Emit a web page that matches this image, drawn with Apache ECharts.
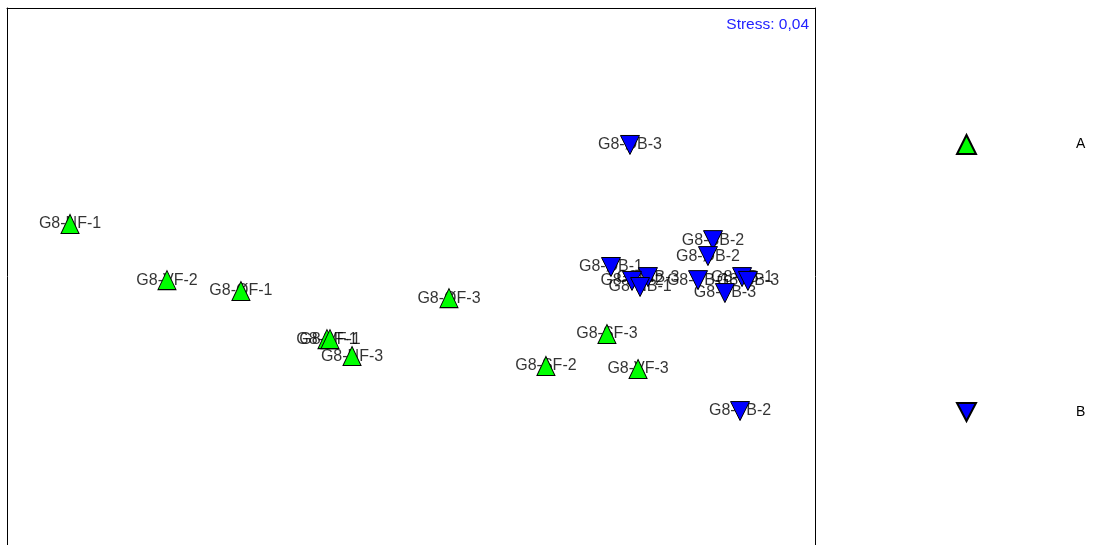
<!DOCTYPE html>
<html>
<head>
<meta charset="utf-8">
<script src="https://cdn.jsdelivr.net/npm/echarts@6/dist/echarts.min.js"></script>
<style>html,body{margin:0;padding:0;background:#fff;}#c{width:1093px;height:545px;}</style>
</head>
<body>
<div id="c"></div>
<script>
// Group A (triangle up, green)
const namesA = ['G8-NF-1','G8-VF-2','G8-ØF-1','G8-ØF-3','G8-SF-1','G8-VF-1','G8-NF-3','G8-SF-2','G8-SF-3','G8-VF-3'];
const xA = [-1.688,-1.208,-0.842,0.188,-0.416,-0.401,-0.292,0.668,0.970,1.124];
const yA = [0.331,0.053,-0.001,-0.036,-0.239,-0.239,-0.323,-0.372,-0.214,-0.387];
// Group B (triangle down, blue)
const namesB = ['G8-ØB-3','G8-SB-2','G8-ØB-2','G8-ØB-1','G8-NB-3','G8-NB-2','G8-NB-1','G8-VB-1','G8-SB-1','G8-SB-3','G8-VB-3','G8-VB-2'];
const xB = [1.084,1.495,1.470,0.990,1.173,1.094,1.134,1.421,1.639,1.668,1.554,1.629];
const yB = [0.722,0.251,0.172,0.118,0.068,0.049,0.019,0.053,0.068,0.049,-0.011,-0.595];
const groups = ['A','B'];
const stressText = 'Stress: 0,04';

const toData = (names, xs, ys) => names.map((n, i) => ({ name: n, value: [xs[i], ys[i]] }));
const downTri = 'path://M0,0 L20,0 L10,19 Z';
const font = 'Liberation Sans, Arial, sans-serif';
const X_MIN = -2, X_MAX = 2, Y_MIN = -1.258, Y_MAX = 1.4;

const labelSeries = (data) => ({
  type: 'scatter', data: data, symbolSize: 0, z: 1, silent: true,
  label: { show: true, position: 'inside', formatter: '{b}', color: '#000', fontSize: 16, fontFamily: font },
  tooltip: { show: false }
});

const frameAxis = (extra) => Object.assign({
  type: 'value', axisLine: { show: true, onZero: false, lineStyle: { color: '#000', width: 1 } },
  axisTick: { show: false }, axisLabel: { show: false }, splitLine: { show: false }
}, extra);

const chart = echarts.init(document.getElementById('c'), null, { renderer: 'canvas' });
chart.setOption({
  animation: false,
  backgroundColor: '#fff',
  title: {
    text: stressText, right: 279, top: 12,
    textStyle: { color: '#2222ff', fontSize: 15.5, fontWeight: 'normal', fontFamily: font }
  },
  grid: { left: 7, top: 8, width: 808, bottom: 0, show: false },
  xAxis: [
    { type: 'value', min: X_MIN, max: X_MAX, show: false },
    frameAxis({ position: 'top', min: X_MIN, max: X_MAX })
  ],
  yAxis: [
    frameAxis({ position: 'left', min: Y_MIN, max: Y_MAX }),
    frameAxis({ position: 'right', min: Y_MIN, max: Y_MAX })
  ],
  legend: {
    orient: 'vertical', left: 951, top: 129, itemGap: 247,
    itemWidth: 19, itemHeight: 19,
    textStyle: { fontSize: 14, color: '#000', fontFamily: font, padding: [0, 0, 0, 95] },
    data: [
      { name: groups[0], icon: 'triangle' },
      { name: groups[1], icon: downTri }
    ],
    selectedMode: false
  },
  series: [
    labelSeries(toData(namesA, xA, yA)),
    labelSeries(toData(namesB, xB, yB)),
    {
      name: groups[0], type: 'scatter', z: 2,
      data: toData(namesA, xA, yA),
      symbol: 'triangle', symbolSize: [18, 19],
      itemStyle: { color: '#00ff00', borderColor: '#000', borderWidth: 1, opacity: 1 }
    },
    {
      name: groups[1], type: 'scatter', z: 2,
      data: toData(namesB, xB, yB),
      symbol: downTri, symbolSize: [19, 19],
      itemStyle: { color: '#0000ff', borderColor: '#000', borderWidth: 1, opacity: 1 }
    }
  ]
});
</script>
</body>
</html>
